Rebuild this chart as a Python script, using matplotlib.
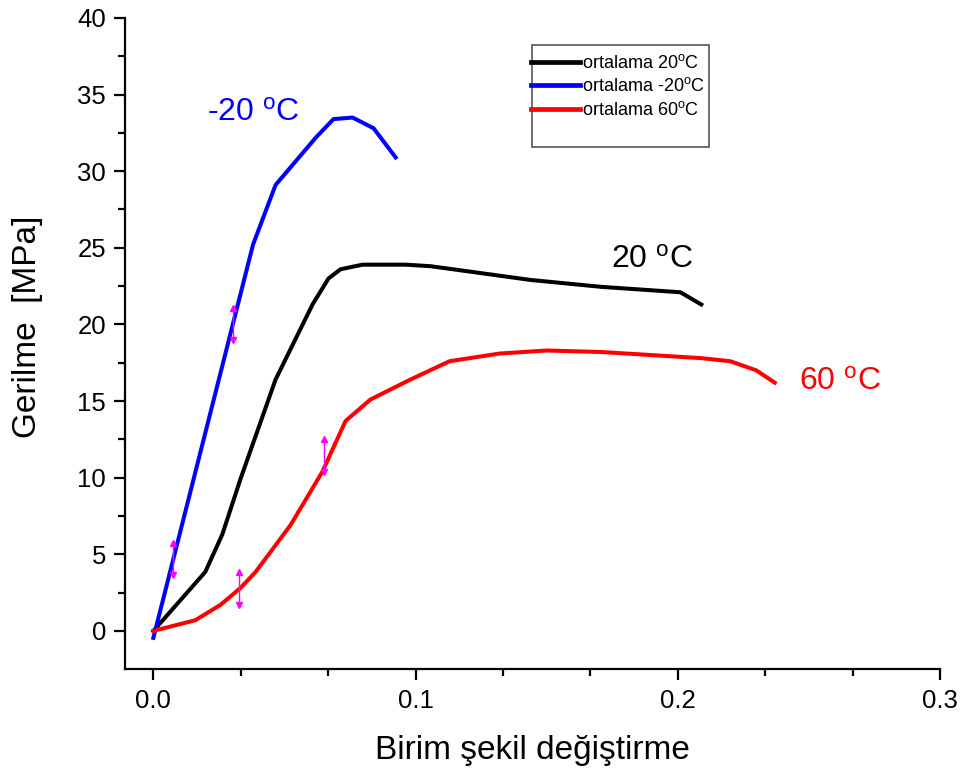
import matplotlib
matplotlib.use("Agg")
import matplotlib.pyplot as plt
from matplotlib.patches import Rectangle

plt.rcParams['font.family'] = ['Liberation Sans', 'DejaVu Sans']
plt.rcParams['mathtext.fontset'] = 'custom'
plt.rcParams['mathtext.rm'] = 'Liberation Sans'
plt.rcParams['mathtext.it'] = 'Liberation Sans'

# 20 °C (black)
x_20 = [0.0, 0.0198, 0.0263, 0.0332, 0.0466, 0.0607, 0.0668, 0.0714, 0.0798,
        0.0962, 0.1057, 0.144, 0.171, 0.201, 0.209]
y_20 = [0.0, 3.85, 6.3, 9.9, 16.4, 21.3, 23.0, 23.6, 23.9,
        23.9, 23.8, 22.9, 22.45, 22.1, 21.3]

# -20 °C (blue)
x_m20 = [0.0, 0.038, 0.0466, 0.062, 0.0687, 0.076, 0.084, 0.0924]
y_m20 = [-0.45, 25.2, 29.1, 32.2, 33.4, 33.5, 32.8, 30.9]

# 60 °C (red)
x_60 = [0.0, 0.016, 0.0256, 0.0332, 0.039, 0.0523, 0.0645, 0.0733, 0.0828,
        0.098, 0.113, 0.132, 0.15, 0.171, 0.209, 0.22, 0.23, 0.237]
y_60 = [0.0, 0.7, 1.7, 2.8, 3.85, 6.9, 10.4, 13.7, 15.1,
        16.4, 17.6, 18.1, 18.3, 18.2, 17.8, 17.6, 17.0, 16.2]

# error bars (magenta)
err_x = [0.0075, 0.0305, 0.0325, 0.0649]
err_lo = [3.66, 19.0, 1.7, 10.4]
err_hi = [5.74, 21.1, 3.85, 12.5]

legend_labels = ['ortalama 20$^{\\mathrm{o}}$C', 'ortalama -20$^{\\mathrm{o}}$C',
                 'ortalama 60$^{\\mathrm{o}}$C']

fig = plt.figure(figsize=(9.64, 7.8), dpi=100)
ax = fig.add_axes([0.130, 0.142, 0.845, 0.835])

lw = 2.9
l1, = ax.plot(x_20, y_20, color='black', lw=lw, label=legend_labels[0], solid_joinstyle='round')
l2, = ax.plot(x_m20, y_m20, color='#0000ff', lw=lw, label=legend_labels[1], solid_joinstyle='round')
l3, = ax.plot(x_60, y_60, color='#ff0000', lw=lw, label=legend_labels[2], solid_joinstyle='round')

for xe, lo, hi in zip(err_x, err_lo, err_hi):
    ax.plot([xe, xe], [lo, hi], color='#ff00ff', lw=1.0, zorder=3)
    ax.plot([xe], [hi], marker='^', color='#ff00ff', ms=5, zorder=3)
    ax.plot([xe], [lo], marker='v', color='#ff00ff', ms=5, zorder=3)

ax.set_xlim(-0.0107, 0.3)
ax.set_ylim(-2.5, 40)
ax.set_xticks([0.0, 0.1, 0.2, 0.3])
ax.set_xticklabels(['0.0', '0.1', '0.2', '0.3'])
ax.set_xticks([1/30, 2/30, 4/30, 5/30, 7/30, 8/30], minor=True)
ax.set_yticks(range(0, 41, 5))
ax.set_yticks([2.5 + 5 * i for i in range(8)], minor=True)
for s in ['top', 'right']:
    ax.spines[s].set_visible(False)
for s in ['left', 'bottom']:
    ax.spines[s].set_linewidth(1.6)
ax.tick_params(which='major', direction='out', length=8, width=1.6, labelsize=18.5, pad=6)
ax.tick_params(which='minor', direction='out', length=5, width=1.6)

ax.set_xlabel('Birim şekil değiştirme', fontsize=24, labelpad=16)
ax.set_ylabel('Gerilme  [MPa]', fontsize=24)
ax.yaxis.set_label_coords(-0.1007, 0.525)

ax.text(0.038, 33.8, '-20 $^{\\mathrm{o}}$C', color='#0000ff', fontsize=23, ha='center', va='center')
ax.text(0.19, 24.2, '20 $^{\\mathrm{o}}$C', color='black', fontsize=23, ha='center', va='center')
ax.text(0.262, 16.25, '60 $^{\\mathrm{o}}$C', color='#ff0000', fontsize=23, ha='center', va='center')

# legend box
fig.patches.append(Rectangle((532 / 964, 1 - 147 / 780), (709 - 532) / 964, (147 - 45) / 780,
                             transform=fig.transFigure, fill=False, edgecolor='#555555', lw=1.2))
leg = fig.legend(handles=[l1, l2, l3], loc='upper left',
                 bbox_to_anchor=(531 / 964, 1 - 54 / 780), frameon=False,
                 fontsize=13, handlelength=2.7, handletextpad=0.1,
                 borderaxespad=0, borderpad=0, labelspacing=0.3)
for h in leg.get_lines():
    h.set_linewidth(3.4)

fig.savefig('out.png', dpi=100)
